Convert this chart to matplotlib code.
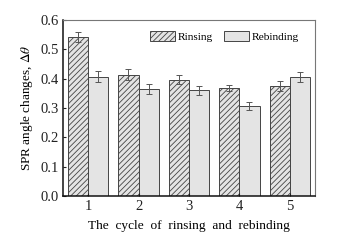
import numpy as np
import matplotlib.pyplot as plt

cycles = [1, 2, 3, 4, 5]
rinsing = [0.541, 0.414, 0.397, 0.368, 0.376]
rinsing_err = [0.017, 0.020, 0.016, 0.011, 0.017]
rebinding = [0.407, 0.365, 0.360, 0.307, 0.406]
rebinding_err = [0.018, 0.018, 0.016, 0.015, 0.016]

plt.rcParams.update({
    "font.family": "serif",
    "font.serif": ["Liberation Serif", "DejaVu Serif"],
    "mathtext.fontset": "stix",
    "font.size": 9,
    "hatch.color": "#777777",
    "hatch.linewidth": 0.6,
})

fig = plt.figure(figsize=(3.38, 2.41), dpi=100)
ax = fig.add_axes([0.186, 0.187, 0.746, 0.730])

x = np.array(cycles)
w = 0.4
ekw = dict(ecolor="#555555", elinewidth=0.7, capsize=2, capthick=0.7)
ax.bar(x - w / 2, rinsing, w, yerr=rinsing_err, color="#e4e4e4", edgecolor="#444444",
       linewidth=0.7, hatch="//////", label="Rinsing", error_kw=ekw)
ax.bar(x + w / 2, rebinding, w, yerr=rebinding_err, color="#e4e4e4", edgecolor="#444444",
       linewidth=0.7, label="Rebinding", error_kw=ekw)

ax.set_xlim(0.5, 5.5)
ax.set_ylim(0, 0.6)
ax.set_xticks(cycles)
ax.set_yticks(np.arange(0, 0.61, 0.1))
ax.set_yticklabels([f"{v:.1f}" for v in np.arange(0, 0.61, 0.1)])
ax.tick_params(direction="in", length=2, width=0.8, labelsize=10.5, colors="#222222", pad=3)
for s in ["left", "bottom"]:
    ax.spines[s].set_linewidth(1.1)
    ax.spines[s].set_color("#111111")
for s in ["top", "right"]:
    ax.spines[s].set_linewidth(0.8)
    ax.spines[s].set_color("#777777")

ax.set_xlabel("The  cycle  of  rinsing  and  rebinding", fontsize=9.6, labelpad=5)
ax.set_ylabel(r"SPR angle changes, $\Delta\theta$", fontsize=9.5, labelpad=4)

ax.legend(loc="upper right", ncol=2, frameon=False, fontsize=8.2,
          handlelength=2.2, handleheight=0.9, columnspacing=1.0, handletextpad=0.2,
          bbox_to_anchor=(0.975, 0.995))

fig.savefig("out.png", dpi=100)
